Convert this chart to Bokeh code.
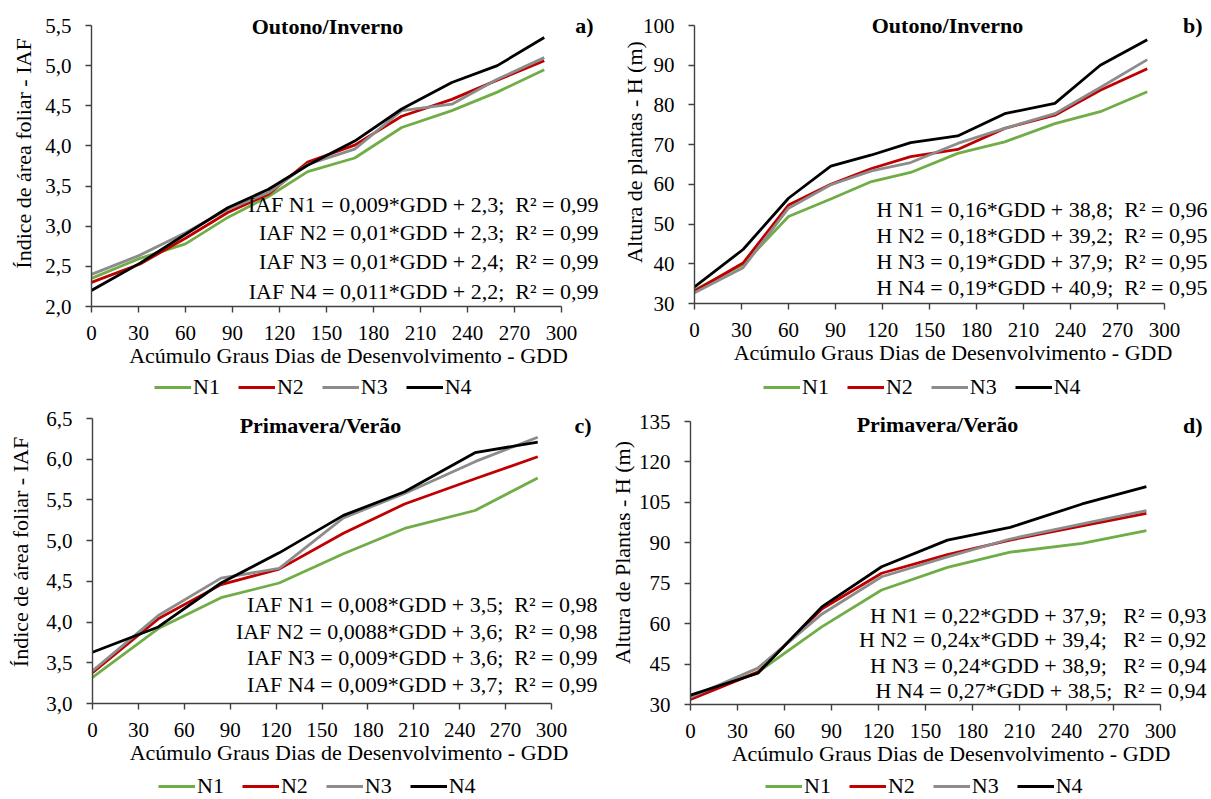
import math
from bokeh.plotting import figure
from bokeh.models import Range1d, FixedTicker, CustomJSTickFormatter, Label, Legend, LegendItem
from bokeh.layouts import column, row
from bokeh.embed import file_html
from bokeh.resources import INLINE

FONT = "Liberation Serif"

# ---------------- data ----------------
series_names = ["N1", "N2", "N3", "N4"]
series_colors = ["#70AD47", "#C00000", "#8C8C8C", "#000000"]

x_ticks = [0, 30, 60, 90, 120, 150, 180, 210, 240, 270, 300]
x_title = "Acúmulo Graus Dias de Desenvolvimento - GDD"

# Outono/Inverno
gdd_oi = [0, 31, 60, 87, 113, 138, 168, 198, 230, 259, 289]
iaf_oi_n1 = [2.35, 2.60, 2.78, 3.11, 3.37, 3.68, 3.85, 4.23, 4.44, 4.67, 4.95]
iaf_oi_n2 = [2.30, 2.53, 2.85, 3.17, 3.40, 3.80, 4.01, 4.37, 4.58, 4.82, 5.06]
iaf_oi_n3 = [2.40, 2.64, 2.92, 3.21, 3.42, 3.77, 3.96, 4.44, 4.52, 4.83, 5.10]
iaf_oi_n4 = [2.20, 2.54, 2.90, 3.23, 3.46, 3.76, 4.06, 4.46, 4.79, 5.00, 5.35]

h_oi_n1 = [33.4, 39.8, 51.9, 56.3, 60.7, 63.0, 67.8, 70.7, 75.3, 78.3, 83.3]
h_oi_n2 = [33.1, 40.2, 54.8, 60.0, 64.0, 67.0, 68.8, 74.1, 77.4, 83.7, 89.1]
h_oi_n3 = [32.7, 39.0, 54.0, 59.9, 63.4, 65.5, 70.3, 74.1, 77.8, 84.4, 91.4]
h_oi_n4 = [34.2, 43.6, 56.5, 64.6, 67.4, 70.5, 72.2, 77.8, 80.4, 90.0, 96.4]

# Primavera/Verão
gdd_pv = [0, 43, 84, 122, 164, 204, 250, 291]
iaf_pv_n1 = [3.32, 3.92, 4.30, 4.48, 4.84, 5.15, 5.37, 5.77]
iaf_pv_n2 = [3.38, 4.04, 4.46, 4.65, 5.09, 5.45, 5.76, 6.03]
iaf_pv_n3 = [3.40, 4.08, 4.54, 4.66, 5.28, 5.58, 5.97, 6.27]
iaf_pv_n4 = [3.63, 3.94, 4.48, 4.85, 5.31, 5.60, 6.08, 6.21]

h_pv_n1 = [32.7, 42.0, 58.9, 72.5, 80.9, 86.5, 89.8, 94.5]
h_pv_n2 = [31.9, 42.0, 65.5, 78.7, 85.6, 91.0, 96.3, 100.9]
h_pv_n3 = [32.7, 43.5, 63.6, 77.4, 84.8, 91.4, 97.0, 101.9]
h_pv_n4 = [33.5, 41.6, 66.3, 81.1, 91.0, 95.7, 104.4, 110.8]

ticks_iaf_oi = [2.0, 2.5, 3.0, 3.5, 4.0, 4.5, 5.0, 5.5]
ticks_h_oi = [30, 40, 50, 60, 70, 80, 90, 100]
ticks_iaf_pv = [3.0, 3.5, 4.0, 4.5, 5.0, 5.5, 6.0, 6.5]
ticks_h_pv = [30, 45, 60, 75, 90, 105, 120, 135]

eq_a = ["IAF N1 = 0,009*GDD + 2,3;\u00a0 R² = 0,99",
        "IAF N2 = 0,01*GDD + 2,3;\u00a0 R² = 0,99",
        "IAF N3 = 0,01*GDD + 2,4;\u00a0 R² = 0,99",
        "IAF N4 = 0,011*GDD + 2,2;\u00a0 R² = 0,99"]
eq_b = ["H N1 = 0,16*GDD + 38,8;\u00a0 R² = 0,96",
        "H N2 = 0,18*GDD + 39,2;\u00a0 R² = 0,95",
        "H N3 = 0,19*GDD + 37,9;\u00a0 R² = 0,95",
        "H N4 = 0,19*GDD + 40,9;\u00a0 R² = 0,95"]
eq_c = ["IAF N1 = 0,008*GDD + 3,5;\u00a0 R² = 0,98",
        "IAF N2 = 0,0088*GDD + 3,6;\u00a0 R² = 0,98",
        "IAF N3 = 0,009*GDD + 3,6;\u00a0 R² = 0,99",
        "IAF N4 = 0,009*GDD + 3,7;\u00a0 R² = 0,99"]
eq_d = ["H N1 = 0,22*GDD + 37,9;\u00a0\u00a0 R² = 0,93",
        "H N2 = 0,24x*GDD + 39,4;\u00a0\u00a0 R² = 0,92",
        "H N3 = 0,24*GDD + 38,9;\u00a0\u00a0 R² = 0,94",
        "H N4 = 0,27*GDD + 38,5;\u00a0 R² = 0,94"]

BOTTOM = 68       # room under each plot for tick labels and the axis title
TEXT_SHIFT = 8    # correction so the given offsets land on the text baseline


def add_text(p, x0, y1, text, dx, dy, size="22px", align="left", bold=False):
    """Place text dx px right of x0 and with its baseline dy px below y1."""
    p.add_layout(Label(x=x0, y=y1, x_units="data", y_units="data",
                       x_offset=dx, y_offset=-(dy - TEXT_SHIFT), text=text, text_font=FONT,
                       text_font_size=size, text_align=align, text_baseline="alphabetic",
                       text_font_style="bold" if bold else "normal",
                       text_color="#000000"))


def panel(xs, ys_list, yticks, comma, ytitle, title, letter, eqs, g):
    W, Htot = g["size"]
    L, R, T, B = g["plot"]          # plot box inside the panel (px)
    H = B + BOTTOM
    x0, x1 = x_ticks[0], x_ticks[-1]
    y0, y1 = yticks[0], yticks[-1]
    # frame reaches the figure's right and top edges; axes keep their own bounds
    x_end = x0 + (x1 - x0) * (W - L) / (R - L)
    y_end = y0 + (y1 - y0) * B / (B - T)
    p = figure(width=W, height=H, output_backend="svg", toolbar_location=None,
               x_range=Range1d(x0, x_end), y_range=Range1d(y0, y_end),
               min_border_left=L, min_border_right=0, min_border_top=0,
               min_border_bottom=BOTTOM)
    p.outline_line_color = None
    p.grid.visible = False

    for ys, c in zip(ys_list, series_colors):
        p.line(xs, ys, line_color=c, line_width=2.8)

    for ax in (p.xaxis[0], p.yaxis[0]):
        ax.axis_line_color = "#404040"
        ax.axis_line_width = 1.4
        ax.major_tick_line_color = "#404040"
        ax.major_tick_line_width = 1.4
        ax.major_tick_out = 6
        ax.major_tick_in = 0
        ax.minor_tick_line_color = None
        ax.major_label_text_font = FONT
        ax.major_label_text_font_size = "21px"
        ax.major_label_text_color = "#000000"
        ax.axis_label_text_font = FONT
        ax.axis_label_text_font_size = "22px"
        ax.axis_label_text_font_style = "normal"
        ax.axis_label_text_color = "#000000"

    p.xaxis.ticker = FixedTicker(ticks=x_ticks)
    p.xaxis.bounds = (x0, x1)
    p.xaxis.major_label_standoff = 13
    p.xaxis.axis_label = x_title
    p.xaxis.axis_label_standoff = 0

    p.yaxis.ticker = FixedTicker(ticks=yticks)
    p.yaxis.bounds = (y0, y1)
    p.yaxis.major_label_standoff = 14
    p.yaxis.axis_label = ytitle
    p.yaxis.axis_label_standoff = g["ystd"]
    if comma:
        p.yaxis.formatter = CustomJSTickFormatter(code="return tick.toFixed(1).replace('.', ',');")

    add_text(p, x0, y1, title, g["title"][0], g["title"][1], align="center", bold=True)
    add_text(p, x0, y1, letter, g["letter"][0], g["letter"][1], align="right", bold=True)
    for txt, dy in zip(eqs, g["eq_dy"]):
        add_text(p, x0, y1, txt, g["eq_dx"], dy, align="right")

    # legend strip under the plot (its frame is aligned with the plot's frame)
    LH = Htot - H
    lf = figure(width=W, height=LH, output_backend="svg", toolbar_location=None,
                x_axis_type=None, y_axis_type=None, x_range=Range1d(0, 1), y_range=Range1d(0, 1),
                min_border_left=L, min_border_right=0, min_border_top=0, min_border_bottom=0)
    lf.outline_line_color = None
    lf.grid.visible = False
    nan = float("nan")
    keys = [lf.line(x=[nan], y=[nan], line_color=c, line_width=2.8) for c in series_colors]
    items = [LegendItem(label=n, renderers=[r], index=0) for n, r in zip(series_names, keys)]
    lg = Legend(items=items, orientation="horizontal", location=(g["legend_x"] - L, 0),
                border_line_color=None, background_fill_alpha=0, padding=0, margin=0,
                spacing=18, glyph_width=37, glyph_height=20, label_standoff=2,
                label_text_font=FONT, label_text_font_size="22px", label_text_color="#000000")
    lf.add_layout(lg)
    return column(p, lf)


geom_a = dict(size=(605, 400), plot=(91, 561, 25, 306), ystd=6,
              title=(236, 9), letter=(502, 8), eq_dx=507, eq_dy=[187, 215, 244, 274],
              legend_x=154)
geom_b = dict(size=(606, 400), plot=(89, 559, 25, 303), ystd=-7,
              title=(253, 8), letter=(508, 8), eq_dx=513, eq_dy=[192, 218, 244, 270],
              legend_x=158)
geom_c = dict(size=(605, 399), plot=(92, 551, 18, 303), ystd=10,
              title=(228, 15), letter=(499, 15), eq_dx=505, eq_dy=[194, 221, 247, 274],
              legend_x=158)
geom_d = dict(size=(606, 399), plot=(85, 555, 21, 304), ystd=1,
              title=(247, 11), letter=(512, 12), eq_dx=516, eq_dy=[202, 226, 252, 277],
              legend_x=160)

pa = panel(gdd_oi, [iaf_oi_n1, iaf_oi_n2, iaf_oi_n3, iaf_oi_n4], ticks_iaf_oi, True,
           "Índice de área foliar - IAF", "Outono/Inverno", "a)", eq_a, geom_a)
pb = panel(gdd_oi, [h_oi_n1, h_oi_n2, h_oi_n3, h_oi_n4], ticks_h_oi, False,
           "Altura de plantas - H (m)", "Outono/Inverno", "b)", eq_b, geom_b)
pc = panel(gdd_pv, [iaf_pv_n1, iaf_pv_n2, iaf_pv_n3, iaf_pv_n4], ticks_iaf_pv, True,
           "Índice de área foliar - IAF", "Primavera/Verão", "c)", eq_c, geom_c)
pd_ = panel(gdd_pv, [h_pv_n1, h_pv_n2, h_pv_n3, h_pv_n4], ticks_h_pv, False,
            "Altura de Plantas - H (m)", "Primavera/Verão", "d)", eq_d, geom_d)

layout = column(row(pa, pb), row(pc, pd_))
open("out.html", "w").write(file_html(layout, INLINE))
